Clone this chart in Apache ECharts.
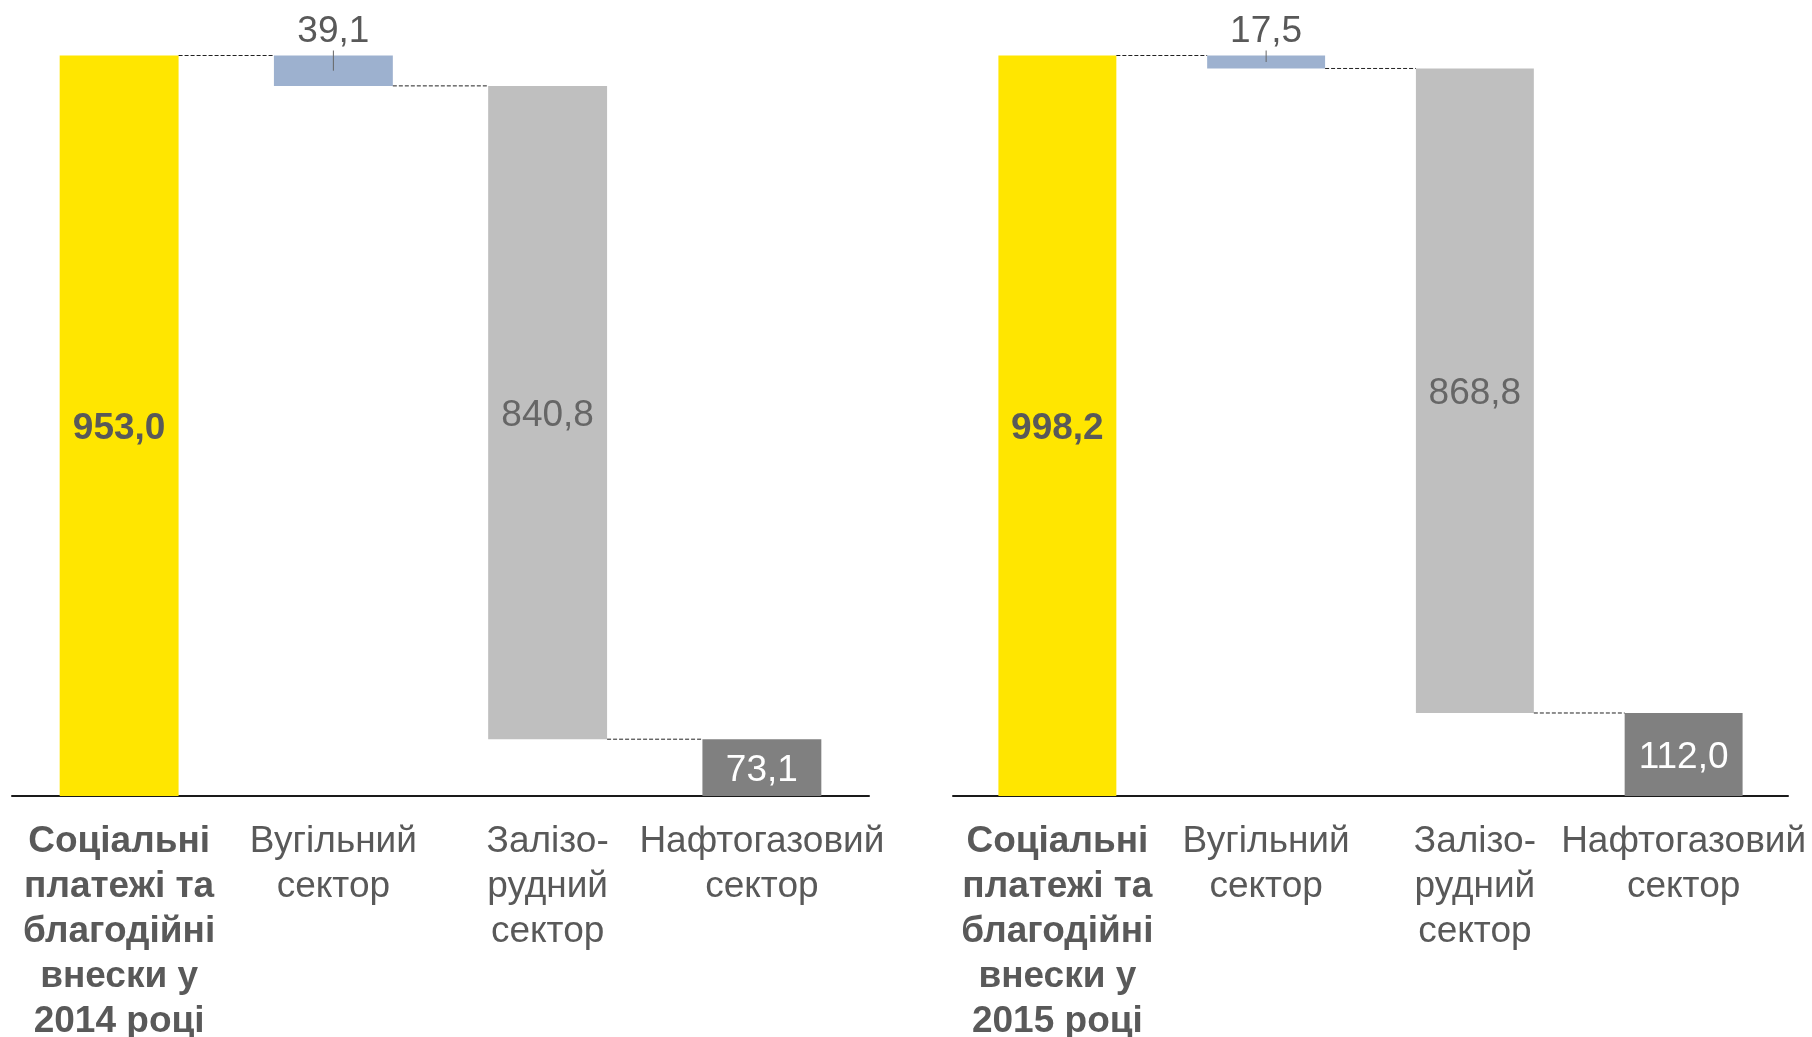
<!DOCTYPE html>
<html>
<head>
<meta charset="utf-8">
<script src="https://cdn.jsdelivr.net/npm/echarts@6/dist/echarts.min.js"></script>
<style>
html,body{margin:0;padding:0;background:#fff;}
#chart{width:1812px;height:1037px;}
</style>
</head>
<body>
<div id="chart"></div>
<script>
// ---- data ----
const categories2014 = ['Соціальні\nплатежі та\nблагодійні\nвнески у\n2014 році', 'Вугільний\nсектор', 'Залізо-\nрудний\nсектор', 'Нафтогазовий\nсектор'];
const categories2015 = ['Соціальні\nплатежі та\nблагодійні\nвнески у\n2015 році', 'Вугільний\nсектор', 'Залізо-\nрудний\nсектор', 'Нафтогазовий\nсектор'];
const values2014 = [953.0, 39.1, 840.8, 73.1];
const values2015 = [998.2, 17.5, 868.8, 112.0];

// ---- style ----
const FONT = 'Liberation Sans, Arial, sans-serif';
const TEXT = '#595959';
const FS = 37;
const barColors = ['#FFE600', '#9DB1CF', '#BFBFBF', '#808080'];

function waterfall(values) {
  // base offsets: first and last bars start at zero, the middle ones hang from the running level
  const total = values[0];
  const base = [];
  const levels = [];
  let level = total;
  base.push(0);
  levels.push(level);
  for (let i = 1; i < values.length - 1; i++) {
    level -= values[i];
    base.push(level);
    levels.push(level);
  }
  base.push(0);
  return { base, levels };
}

function fmt(v) { return v.toFixed(1).replace('.', ','); }

function buildSeries(values, idx, widthRatio) {
  const wf = waterfall(values);
  const labelStyles = [
    { show: true, position: 'inside', fontWeight: 'bold', color: TEXT, offset: [0, 3] },
    { show: true, position: 'top', distance: 5, color: TEXT },
    { show: true, position: 'inside', color: '#666666', offset: [0, 3] },
    { show: true, position: 'inside', color: '#ffffff', offset: [0, 3] }
  ];
  const data = values.map((v, i) => ({
    value: v,
    itemStyle: { color: barColors[i] },
    label: Object.assign({ fontSize: FS, fontFamily: FONT, formatter: () => fmt(v) }, labelStyles[i])
  }));
  const connectors = wf.levels.map((lv, i) => [i, lv]);
  return [
    {
      type: 'bar', xAxisIndex: idx, yAxisIndex: idx, stack: 's' + idx,
      data: wf.base, barWidth: (widthRatio * 100) + '%',
      itemStyle: { color: 'transparent' }, silent: true, z: 2
    },
    {
      type: 'bar', xAxisIndex: idx, yAxisIndex: idx, stack: 's' + idx,
      data: data, barWidth: (widthRatio * 100) + '%', z: 3
    },
    {
      type: 'custom', xAxisIndex: idx, yAxisIndex: idx, z: 4, silent: true,
      data: connectors,
      renderItem: function (params, api) {
        const i = api.value(0), lv = api.value(1);
        const p1 = api.coord([i, lv]);
        const p2 = api.coord([i + 1, lv]);
        const hw = api.size([1, 0])[0] * widthRatio / 2;
        return {
          type: 'line',
          shape: { x1: p1[0] + hw, y1: p1[1], x2: p2[0] - hw, y2: p2[1] },
          style: { stroke: '#222222', lineWidth: 1, lineDash: [4, 2] }
        };
      }
    },
    {
      type: 'custom', xAxisIndex: idx, yAxisIndex: idx, z: 5, silent: true,
      data: [[1, wf.levels[0], wf.levels[1]]],
      renderItem: function (params, api) {
        const i = api.value(0);
        const top = api.coord([i, api.value(1)]);
        const bot = api.coord([i, api.value(2)]);
        return {
          type: 'line',
          shape: { x1: top[0], y1: top[1] - 5, x2: top[0], y2: (top[1] + bot[1]) / 2 },
          style: { stroke: '#666666', lineWidth: 1 }
        };
      }
    }
  ];
}

function xAxisDef(idx, cats) {
  return {
    type: 'category', gridIndex: idx,
    data: cats.map((c, i) => i === 0 ? { value: c, textStyle: { fontWeight: 'bold' } } : c),
    axisLine: { show: true, lineStyle: { color: '#1a1a1a', width: 2 } },
    axisTick: { show: false },
    axisLabel: {
      interval: 0, margin: 23, fontSize: FS, lineHeight: 45,
      fontFamily: FONT, color: TEXT, align: 'center'
    }
  };
}

function yAxisDef(idx) {
  return { type: 'value', gridIndex: idx, min: 0, max: function (v) { return v.max; }, show: false, splitLine: { show: false } };
}

const chart = echarts.init(document.getElementById('chart'), null, { renderer: 'canvas' });
chart.setOption({
  animation: false,
  backgroundColor: '#ffffff',
  textStyle: { fontFamily: FONT },
  grid: [
    { left: 12, width: 857, top: 55.5, bottom: 241, containLabel: false, outerBoundsMode: 'none' },
    { left: 953, width: 835, top: 55.5, bottom: 241, containLabel: false, outerBoundsMode: 'none' }
  ],
  xAxis: [xAxisDef(0, categories2014), xAxisDef(1, categories2015)],
  yAxis: [yAxisDef(0), yAxisDef(1)],
  series: [].concat(buildSeries(values2014, 0, 0.555), buildSeries(values2015, 1, 0.565))
});
</script>
</body>
</html>
